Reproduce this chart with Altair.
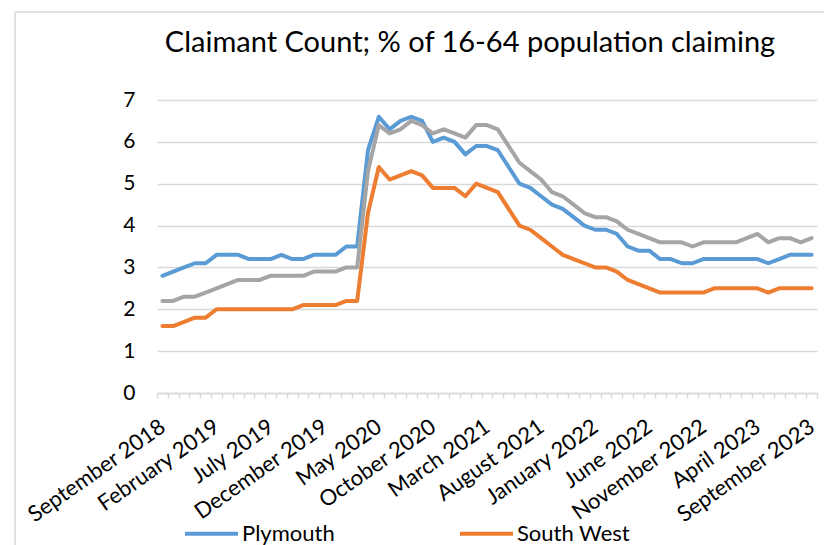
import json
import altair as alt
import pandas as pd

# Categories: monthly, September 2018 .. September 2023
months = [d.strftime("%B %Y") for d in pd.date_range("2018-09-01", "2023-09-01", freq="MS")]
label_months = months[::5]

plymouth = [2.8, 2.9, 3.0, 3.1, 3.1, 3.3, 3.3, 3.3, 3.2, 3.2,
            3.2, 3.3, 3.2, 3.2, 3.3, 3.3, 3.3, 3.5, 3.5, 5.8,
            6.6, 6.3, 6.5, 6.6, 6.5, 6.0, 6.1, 6.0, 5.7, 5.9,
            5.9, 5.8, 5.4, 5.0, 4.9, 4.7, 4.5, 4.4, 4.2, 4.0,
            3.9, 3.9, 3.8, 3.5, 3.4, 3.4, 3.2, 3.2, 3.1, 3.1,
            3.2, 3.2, 3.2, 3.2, 3.2, 3.2, 3.1, 3.2, 3.3, 3.3, 3.3]
south_west = [1.6, 1.6, 1.7, 1.8, 1.8, 2.0, 2.0, 2.0, 2.0, 2.0,
              2.0, 2.0, 2.0, 2.1, 2.1, 2.1, 2.1, 2.2, 2.2, 4.3,
              5.4, 5.1, 5.2, 5.3, 5.2, 4.9, 4.9, 4.9, 4.7, 5.0,
              4.9, 4.8, 4.4, 4.0, 3.9, 3.7, 3.5, 3.3, 3.2, 3.1,
              3.0, 3.0, 2.9, 2.7, 2.6, 2.5, 2.4, 2.4, 2.4, 2.4,
              2.4, 2.5, 2.5, 2.5, 2.5, 2.5, 2.4, 2.5, 2.5, 2.5, 2.5]
great_britain = [2.2, 2.2, 2.3, 2.3, 2.4, 2.5, 2.6, 2.7, 2.7, 2.7,
                 2.8, 2.8, 2.8, 2.8, 2.9, 2.9, 2.9, 3.0, 3.0, 5.3,
                 6.4, 6.2, 6.3, 6.5, 6.4, 6.2, 6.3, 6.2, 6.1, 6.4,
                 6.4, 6.3, 5.9, 5.5, 5.3, 5.1, 4.8, 4.7, 4.5, 4.3,
                 4.2, 4.2, 4.1, 3.9, 3.8, 3.7, 3.6, 3.6, 3.6, 3.5,
                 3.6, 3.6, 3.6, 3.6, 3.7, 3.8, 3.6, 3.7, 3.7, 3.6, 3.7]

series_names = ["Plymouth", "South West", "Great Britain"]
series_colors = ["#5B9BD5", "#ED7D31", "#A5A5A5"]
y_ticks = [0, 1, 2, 3, 4, 5, 6, 7]

rows = []
for name, vals in zip(series_names, [plymouth, south_west, great_britain]):
    for m, v in zip(months, vals):
        rows.append({"month": m, "series": name, "value": v})
df = pd.DataFrame(rows)

FONT = "Lato"
GRID = "#d9d9d9"

label_expr = "indexof(" + json.dumps(label_months) + ", datum.value) >= 0 ? datum.value : ''"

x_enc = alt.X(
    "month:N", sort=months, bandPosition=0.5,
    scale=alt.Scale(type="band", paddingInner=0, paddingOuter=0),
    axis=alt.Axis(
        title=None, labelExpr=label_expr, labelAngle=-35, labelAlign="right",
        labelBaseline="middle", labelPadding=26, labelFont=FONT, labelFontSize=22,
        labelColor="#000000", labelOverlap=False, domainColor=GRID, domainWidth=1.5,
        tickColor=GRID, tickWidth=1.5, tickSize=5, tickBand="extent", grid=False,
    ),
)
y_enc = alt.Y(
    "value:Q", scale=alt.Scale(domain=[0, 7], nice=False),
    axis=alt.Axis(
        title=None, values=y_ticks, grid=True, gridColor=GRID, gridWidth=1.5,
        domain=False, ticks=False, labelPadding=22, labelFont=FONT,
        labelFontSize=21, labelColor="#000000",
    ),
)
color_enc = alt.Color(
    "series:N",
    scale=alt.Scale(domain=series_names, range=series_colors),
    legend=alt.Legend(
        title=None, values=["Plymouth", "South West"], orient="none",
        direction="horizontal", legendX=26, legendY=405,
        symbolType="stroke", symbolSize=2809, symbolStrokeWidth=4,
        labelFont=FONT, labelFontSize=22, labelColor="#000000",
        labelOffset=2, columnPadding=117,
    ),
)

layers = []
for name in series_names:
    layers.append(
        alt.Chart(df)
        .transform_filter(alt.datum.series == name)
        .mark_line(strokeWidth=4, strokeJoin="round", strokeCap="round")
        .encode(x=x_enc, y=y_enc, color=color_enc)
    )

frame = pd.DataFrame({"k": [0]})
border_top = alt.Chart(frame).mark_rule(color=GRID, strokeWidth=1.5).encode(
    x=alt.value(-142), x2=alt.value(720), y=alt.value(-88))
border_left = alt.Chart(frame).mark_rule(color=GRID, strokeWidth=1.5).encode(
    x=alt.value(-142), y=alt.value(-88), y2=alt.value(480))

chart = alt.layer(border_top, border_left, *layers).properties(
    width=660, height=293,
    title=alt.TitleParams(
        "Claimant Count; % of 16-64 population claiming", font=FONT,
        fontSize=29, fontWeight="normal", color="#000000", anchor="middle",
        dx=-17, offset=-47,
    ),
    autosize=alt.AutoSizeParams(type="none"),
    padding={"left": 149, "top": 92, "right": 7, "bottom": 152},
).configure_view(stroke=None)

chart.save("out.html", embed_options={"renderer": "svg", "actions": False})
